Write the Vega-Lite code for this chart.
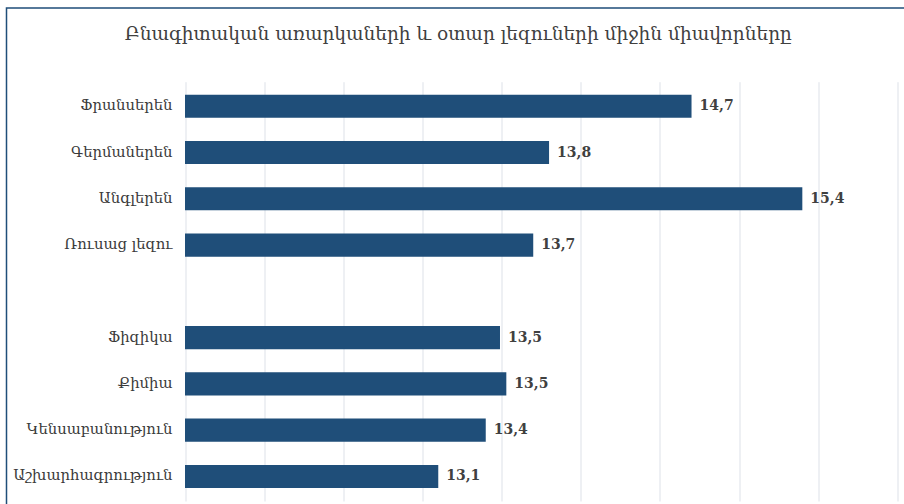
{
  "$schema": "https://vega.github.io/schema/vega-lite/v6.json",
  "autosize": {"type": "none"},
  "padding": {"left": 6.5, "top": 8, "right": -6, "bottom": -6},
  "width": 903.5,
  "height": 502,
  "background": "white",
  "title": {
    "text": "Բնագիտական առարկաների և օտար լեզուների միջին միավորները",
    "font": "DejaVu Serif",
    "fontSize": 18.5,
    "fontWeight": "normal",
    "color": "#404040",
    "anchor": "middle",
    "frame": "group",
    "baseline": "bottom",
    "offset": -54
  },
  "data": {
    "values": [
      {"subject": "Ֆրանսերեն", "score": 14.7},
      {"subject": "Գերմաներեն", "score": 13.8},
      {"subject": "Անգլերեն", "score": 15.4},
      {"subject": "Ռուսաց լեզու", "score": 13.7},
      {"subject": "Ֆիզիկա", "score": 13.49},
      {"subject": "Քիմիա", "score": 13.53},
      {"subject": "Կենսաբանություն", "score": 13.4},
      {"subject": "Աշխարհագրություն", "score": 13.1}
    ]
  },
  "encoding": {
    "y": {
      "field": "subject",
      "type": "nominal",
      "sort": null,
      "scale": {
        "domain": ["Ֆրանսերեն", "Գերմաներեն", "Անգլերեն", "Ռուսաց լեզու", " ", "Ֆիզիկա", "Քիմիա", "Կենսաբանություն", "Աշխարհագրություն"],
        "range": [73.7, 493],
        "paddingInner": 0.5,
        "paddingOuter": 0.28
      },
      "axis": {
        "title": null,
        "domain": false,
        "ticks": false,
        "grid": false,
        "offset": -178.5,
        "labelPadding": 13,
        "labelFont": "DejaVu Serif",
        "labelFontSize": 14.8,
        "labelColor": "#3A3A3A",
        "labelLimit": 300
      }
    },
    "x": {
      "field": "score",
      "type": "quantitative",
      "scale": {"domain": [11.5, 16], "range": [178.5, 890.8], "nice": false, "zero": false},
      "axis": {
        "orient": "top",
        "title": null,
        "labels": false,
        "ticks": false,
        "domain": false,
        "grid": true,
        "values": [11.5, 12, 12.5, 13, 13.5, 14, 14.5, 15, 15.5, 16],
        "gridColor": "#DDE1E8",
        "gridWidth": 1
      }
    }
  },
  "layer": [
    {
      "mark": {"type": "bar", "color": "#1F4E79"},
      "encoding": {"x2": {"datum": 11.5}}
    },
    {
      "mark": {"type": "text", "align": "left", "baseline": "middle", "dx": 8, "font": "DejaVu Serif", "fontSize": 14, "fontWeight": "bold", "color": "#404040"},
      "encoding": {"text": {"field": "score", "type": "quantitative", "format": ".1f"}}
    }
  ],
  "config": {
    "view": {"stroke": "#1F4E79", "strokeWidth": 1.5},
    "locale": {"number": {"decimal": ",", "thousands": " ", "grouping": [3], "currency": ["", ""]}}
  }
}
